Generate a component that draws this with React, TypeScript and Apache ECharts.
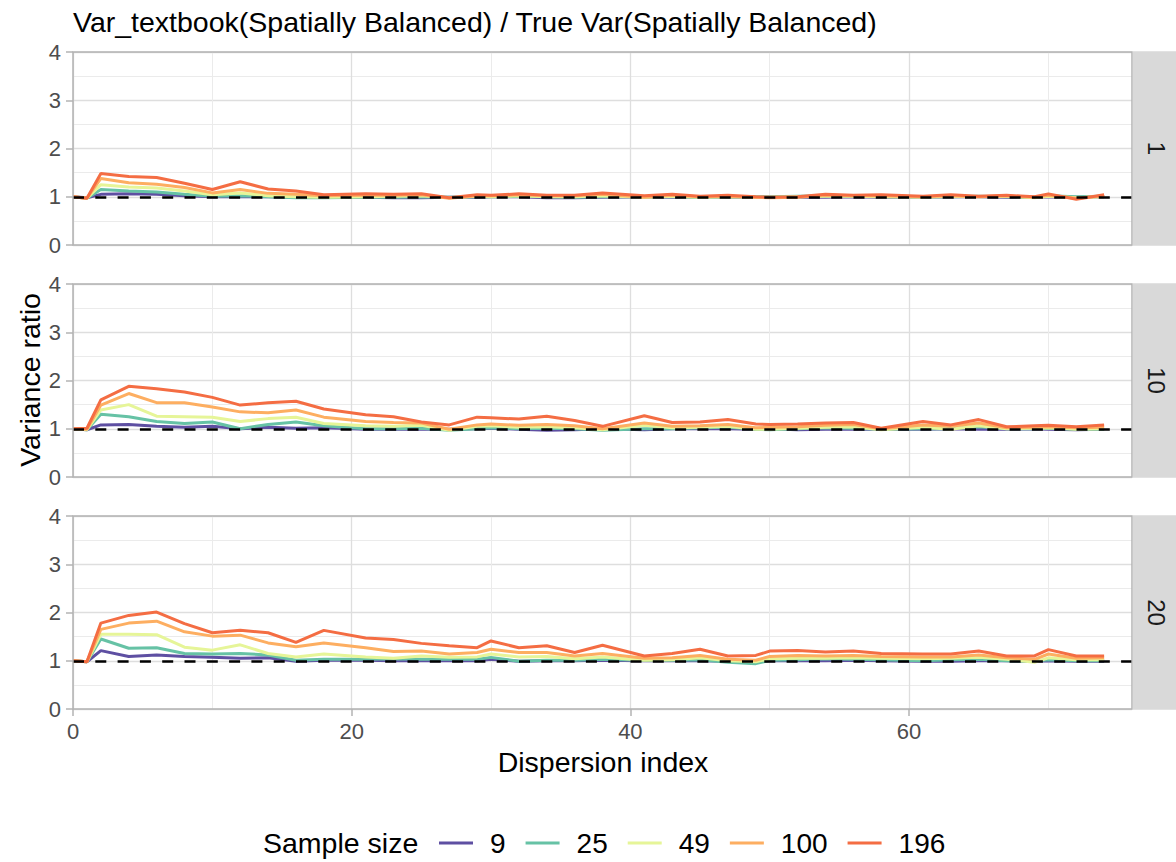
import React, { useEffect, useRef } from "react";
import * as echarts from "echarts";

const FONT = "'Liberation Sans', Arial, Helvetica, sans-serif";

const dispersion = [0, 1, 2, 4, 6, 8, 10, 12, 14, 16, 18, 21, 23, 25, 27, 29, 30, 32, 34, 36, 38, 41, 43, 45, 47, 49, 50, 52, 54, 56, 58, 61, 63, 65, 67, 69, 70, 72, 74];
const sampleSizes = ["9", "25", "49", "100", "196"];
const colors = ["#5E4FA2", "#66C2A5", "#E6F598", "#FDAE61", "#F46D43"];
const facets = ["1", "10", "20"];
const xTickValues = [0, 20, 40, 60];
const xMinorGrid = [10, 30, 50, 70];

// facet 1
const f1_n9 = [1.0, 0.98, 1.05, 1.06, 1.05, 1.02, 1.0, 1.0, 1.0, 0.99, 0.99, 0.99, 0.98, 0.98, 0.99, 0.99, 1.0, 1.0, 0.98, 0.98, 0.99, 1.0, 0.99, 1.0, 0.99, 0.99, 1.0, 0.99, 0.99, 1.0, 0.99, 0.99, 1.0, 1.0, 0.99, 0.99, 1.0, 0.99, 1.0];
const f1_n25 = [1.0, 0.97, 1.15, 1.12, 1.1, 1.05, 1.01, 1.02, 1.0, 0.98, 0.98, 0.99, 0.99, 1.0, 0.99, 1.0, 1.0, 1.01, 1.0, 0.99, 1.0, 1.0, 1.0, 0.99, 1.0, 1.0, 1.0, 1.01, 1.02, 1.01, 1.0, 1.0, 1.0, 1.01, 1.0, 0.99, 1.02, 1.0, 1.01];
const f1_n49 = [1.0, 0.97, 1.25, 1.2, 1.18, 1.12, 1.04, 1.08, 1.02, 1.0, 0.99, 1.0, 1.01, 1.02, 0.98, 1.01, 1.0, 1.02, 1.0, 1.0, 1.02, 0.99, 1.01, 0.99, 1.0, 0.99, 0.99, 1.0, 1.01, 1.01, 1.0, 0.99, 1.01, 1.0, 1.01, 0.98, 1.01, 0.98, 1.0];
const f1_n100 = [1.0, 0.97, 1.38, 1.29, 1.26, 1.19, 1.08, 1.15, 1.07, 1.05, 1.02, 1.03, 1.03, 1.04, 0.97, 1.02, 1.02, 1.04, 1.02, 1.02, 1.05, 0.99, 1.03, 1.0, 1.01, 0.99, 0.98, 0.99, 1.03, 1.02, 1.02, 1.0, 1.02, 1.0, 1.02, 0.99, 1.03, 0.97, 1.02];
const f1_n196 = [1.0, 0.97, 1.48, 1.42, 1.4, 1.28, 1.15, 1.31, 1.16, 1.12, 1.04, 1.06, 1.05, 1.06, 0.98, 1.04, 1.03, 1.06, 1.03, 1.03, 1.08, 1.02, 1.05, 1.01, 1.03, 1.0, 0.99, 1.0, 1.05, 1.03, 1.04, 1.01, 1.04, 1.01, 1.03, 1.0, 1.06, 0.95, 1.04];

// facet 10
const f10_n9 = [1.0, 0.98, 1.08, 1.09, 1.05, 1.03, 1.05, 1.0, 1.03, 1.01, 1.02, 0.99, 0.99, 0.99, 0.99, 1.0, 1.01, 0.99, 0.97, 0.98, 1.0, 0.98, 1.0, 1.0, 1.0, 0.99, 1.0, 0.98, 0.99, 0.99, 0.99, 0.99, 1.0, 0.99, 0.99, 1.0, 0.99, 0.98, 0.99];
const f10_n25 = [1.0, 0.98, 1.3, 1.25, 1.15, 1.11, 1.14, 1.0, 1.09, 1.14, 1.06, 1.0, 1.0, 1.01, 0.97, 1.0, 1.02, 1.0, 1.01, 1.0, 0.97, 1.0, 1.0, 1.02, 1.03, 0.99, 0.98, 1.0, 1.02, 1.01, 0.99, 1.0, 1.0, 1.04, 1.0, 1.0, 1.01, 0.99, 0.99];
const f10_n49 = [1.0, 0.98, 1.39, 1.5, 1.26, 1.25, 1.24, 1.15, 1.21, 1.24, 1.11, 1.06, 1.05, 1.07, 0.97, 1.05, 1.06, 1.03, 1.04, 1.02, 0.98, 1.07, 1.02, 1.03, 1.05, 0.99, 0.99, 1.01, 1.03, 1.04, 0.98, 1.03, 0.99, 1.06, 1.0, 1.01, 1.02, 0.99, 1.0];
const f10_n100 = [1.0, 0.99, 1.49, 1.73, 1.54, 1.54, 1.45, 1.35, 1.33, 1.39, 1.24, 1.15, 1.13, 1.12, 0.99, 1.08, 1.1, 1.07, 1.09, 1.06, 1.0, 1.12, 1.05, 1.06, 1.09, 1.02, 1.03, 1.04, 1.07, 1.09, 1.0, 1.08, 1.05, 1.12, 1.02, 1.03, 1.04, 1.02, 1.03];
const f10_n196 = [1.0, 1.01, 1.6, 1.88, 1.83, 1.76, 1.65, 1.49, 1.54, 1.57, 1.41, 1.29, 1.25, 1.14, 1.08, 1.24, 1.23, 1.2, 1.26, 1.17, 1.05, 1.27, 1.13, 1.14, 1.19, 1.1, 1.09, 1.1, 1.12, 1.13, 1.01, 1.15, 1.08, 1.19, 1.04, 1.06, 1.07, 1.04, 1.08];

// facet 20
const f20_n9 = [1.0, 0.98, 1.21, 1.09, 1.12, 1.09, 1.07, 1.05, 1.06, 0.99, 1.01, 1.01, 1.0, 1.0, 1.0, 1.0, 1.03, 0.99, 1.0, 1.0, 1.01, 1.0, 1.0, 1.0, 0.99, 0.97, 1.0, 1.0, 1.0, 1.01, 1.0, 0.99, 0.99, 1.0, 1.0, 0.99, 1.0, 0.99, 0.99];
const f20_n25 = [1.0, 0.98, 1.45, 1.26, 1.27, 1.15, 1.14, 1.15, 1.12, 1.01, 1.03, 1.03, 1.04, 1.03, 1.03, 1.03, 1.07, 0.99, 1.01, 1.01, 1.03, 1.01, 1.01, 1.02, 0.97, 0.94, 1.01, 1.02, 1.04, 1.03, 1.02, 1.0, 1.02, 1.03, 1.0, 0.99, 1.02, 1.0, 1.0];
const f20_n49 = [1.0, 0.98, 1.55, 1.55, 1.54, 1.28, 1.22, 1.33, 1.15, 1.08, 1.14, 1.08, 1.05, 1.1, 1.07, 1.08, 1.14, 1.08, 1.09, 1.04, 1.08, 1.01, 1.02, 1.06, 1.0, 0.98, 1.04, 1.05, 1.05, 1.06, 1.05, 1.04, 1.05, 1.07, 1.03, 0.97, 1.06, 1.02, 1.02];
const f20_n100 = [1.0, 0.98, 1.65, 1.78, 1.82, 1.6, 1.51, 1.53, 1.37, 1.29, 1.37, 1.27, 1.19, 1.2, 1.14, 1.17, 1.24, 1.17, 1.17, 1.1, 1.15, 1.05, 1.06, 1.11, 1.03, 1.01, 1.09, 1.11, 1.1, 1.11, 1.09, 1.08, 1.08, 1.12, 1.06, 1.03, 1.14, 1.05, 1.06];
const f20_n196 = [1.0, 0.98, 1.78, 1.94, 2.01, 1.77, 1.58, 1.63, 1.58, 1.38, 1.63, 1.47, 1.44, 1.36, 1.31, 1.27, 1.41, 1.27, 1.31, 1.17, 1.32, 1.1, 1.15, 1.24, 1.1, 1.11, 1.2, 1.21, 1.18, 1.2, 1.15, 1.14, 1.14, 1.2, 1.1, 1.1, 1.23, 1.1, 1.1];

const facetSeries = [
  [f1_n9, f1_n25, f1_n49, f1_n100, f1_n196],
  [f10_n9, f10_n25, f10_n49, f10_n100, f10_n196],
  [f20_n9, f20_n25, f20_n49, f20_n100, f20_n196],
];

const GRID_LEFT = 73;
const GRID_WIDTH = 1059;
const GRID_HEIGHT = 193;
const GRID_TOPS = [52, 284, 516];
const BORDER = "#B3B3B3";

export default function App() {
  const ref = useRef<HTMLDivElement>(null);

  useEffect(() => {
    document.body.style.margin = "0";
    const chart = echarts.init(ref.current!, null, { renderer: "svg" });

    const grids = GRID_TOPS.map((top) => ({
      left: GRID_LEFT,
      top,
      width: GRID_WIDTH,
      height: GRID_HEIGHT,
      show: false,
      containLabel: false,
    }));

    const xAxes = GRID_TOPS.map((_, i) => ({
      gridIndex: i,
      type: "value",
      min: 0,
      max: 76,
      interval: 20,
      axisLine: { show: false },
      axisTick: {
        show: i === 2,
        length: 7,
        customValues: xTickValues,
        lineStyle: { color: BORDER, width: 1.5 },
      },
      axisLabel: {
        show: i === 2,
        customValues: xTickValues,
        color: "#4D4D4D",
        fontSize: 22,
        fontFamily: FONT,
        margin: 11,
      },
      splitLine: { show: true, lineStyle: { color: "#DEDEDE", width: 1.3 } },
    }));

    const yAxes = GRID_TOPS.map((_, i) => ({
      gridIndex: i,
      type: "value",
      min: 0,
      max: 4,
      interval: 1,
      axisLine: { show: false },
      axisTick: { show: true, length: 7, lineStyle: { color: BORDER, width: 1.5 } },
      axisLabel: { color: "#4D4D4D", fontSize: 22, fontFamily: FONT, margin: 12 },
      splitLine: { show: true, lineStyle: { color: "#DEDEDE", width: 1.3 } },
      minorTick: { show: false, splitNumber: 2 },
      minorSplitLine: { show: true, lineStyle: { color: "#EBEBEB", width: 1 } },
    }));

    const series: any[] = [];
    facetSeries.forEach((group, fi) => {
      series.push({
        type: "line",
        name: "minor-grid-" + fi,
        xAxisIndex: fi,
        yAxisIndex: fi,
        data: [],
        silent: true,
        markLine: {
          silent: true,
          z: 1,
          symbol: ["none", "none"],
          label: { show: false },
          lineStyle: { color: "#EBEBEB", width: 1, type: "solid" },
          emphasis: { disabled: true },
          data: xMinorGrid.map((v) => ({ xAxis: v })),
        },
      });
      group.forEach((vals, si) => {
        series.push({
          type: "line",
          name: sampleSizes[si],
          xAxisIndex: fi,
          yAxisIndex: fi,
          data: dispersion.map((x, k) => [x, vals[k]]),
          symbol: "none",
          z: 2,
          lineStyle: { color: colors[si], width: 3 },
          itemStyle: { color: colors[si] },
          emphasis: { disabled: true },
        });
      });
      series.push({
        type: "line",
        name: "ref-line-" + fi,
        xAxisIndex: fi,
        yAxisIndex: fi,
        data: [],
        silent: true,
        markLine: {
          silent: true,
          z: 5,
          symbol: ["none", "none"],
          label: { show: false },
          lineStyle: { color: "#000000", width: 2.6, type: [11, 11.3] },
          emphasis: { disabled: true },
          data: [{ yAxis: 1 }],
        },
      });
    });

    const graphics: any[] = [];
    GRID_TOPS.forEach((top, i) => {
      graphics.push({
        type: "rect",
        shape: { x: GRID_LEFT, y: top, width: GRID_WIDTH, height: GRID_HEIGHT },
        style: { fill: "none", stroke: BORDER, lineWidth: 1.5 },
        z: 10,
        silent: true,
      });
      graphics.push({
        type: "rect",
        shape: { x: GRID_LEFT + GRID_WIDTH + 0.8, y: top - 0.75, width: 50, height: GRID_HEIGHT + 1.5 },
        style: { fill: "#D9D9D9" },
        z: 10,
        silent: true,
      });
      graphics.push({
        type: "text",
        x: 1156,
        y: top + GRID_HEIGHT / 2,
        rotation: -Math.PI / 2,
        style: {
          text: facets[i],
          fontSize: 24,
          fontFamily: FONT,
          fill: "#1A1A1A",
          align: "center",
          verticalAlign: "middle",
        },
        z: 11,
        silent: true,
      });
    });
    graphics.push({
      type: "text",
      x: 73,
      y: 22,
      style: {
        text: "Var_textbook(Spatially Balanced) / True Var(Spatially Balanced)",
        fontSize: 28.5,
        fontFamily: FONT,
        fill: "#000000",
        align: "left",
        verticalAlign: "middle",
      },
    });
    graphics.push({
      type: "text",
      x: 30,
      y: 380,
      rotation: Math.PI / 2,
      style: {
        text: "Variance ratio",
        fontSize: 28.5,
        fontFamily: FONT,
        fill: "#000000",
        align: "center",
        verticalAlign: "middle",
      },
    });
    graphics.push({
      type: "text",
      x: 603,
      y: 762,
      style: {
        text: "Dispersion index",
        fontSize: 28.5,
        fontFamily: FONT,
        fill: "#000000",
        align: "center",
        verticalAlign: "middle",
      },
    });
    graphics.push({
      type: "text",
      x: 263,
      y: 843,
      style: {
        text: "Sample size",
        fontSize: 28.5,
        fontFamily: FONT,
        fill: "#000000",
        align: "left",
        verticalAlign: "middle",
      },
    });

    chart.setOption({
      animation: false,
      backgroundColor: "#FFFFFF",
      textStyle: { fontFamily: FONT },
      grid: grids,
      xAxis: xAxes,
      yAxis: yAxes,
      legend: {
        data: sampleSizes,
        left: 434,
        top: 824,
        orient: "horizontal",
        icon: "rect",
        itemWidth: 34,
        itemHeight: 3,
        itemGap: 20,
        selectedMode: false,
        textStyle: { fontSize: 28, color: "#000000", fontFamily: FONT, padding: [0, 0, 0, 12] },
      },
      series,
      graphic: graphics,
    });

    return () => chart.dispose();
  }, []);

  return <div ref={ref} style={{ width: 1176, height: 862 }} />;
}
